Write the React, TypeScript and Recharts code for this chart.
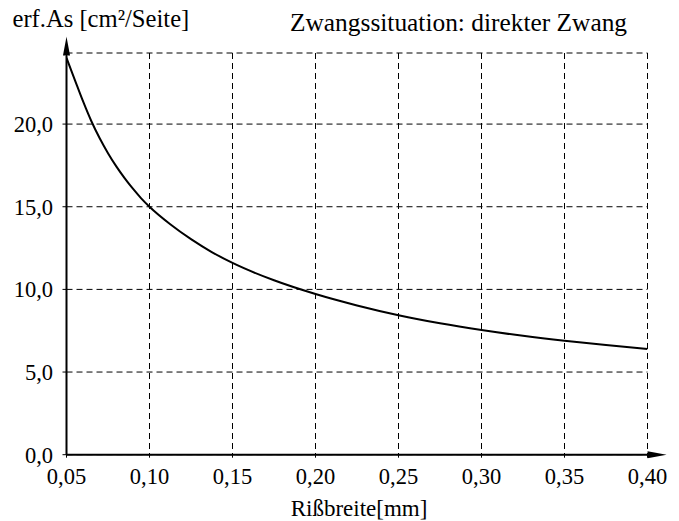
import React from "react";
import { LineChart, Line, XAxis, YAxis, CartesianGrid, ReferenceLine } from "recharts";

const crackWidths = [0.05, 0.055, 0.06, 0.065, 0.07, 0.075, 0.08, 0.085, 0.09, 0.095, 0.1, 0.1125, 0.125, 0.1375, 0.15, 0.175, 0.2, 0.225, 0.25, 0.275, 0.3, 0.325, 0.35, 0.375, 0.4];
const requiredAs = [24.0, 22.68, 21.37, 20.17, 19.14, 18.24, 17.44, 16.73, 16.09, 15.51, 15.0, 13.94, 13.04, 12.26, 11.6, 10.55, 9.72, 9.03, 8.44, 7.95, 7.54, 7.19, 6.89, 6.63, 6.39];
const xTicks = [0.05, 0.1, 0.15, 0.2, 0.25, 0.3, 0.35, 0.4];
const yTicks = [0, 5, 10, 15, 20];
const chartTitle = "Zwangssituation: direkter Zwang";
const yTitle = "erf.As [cm²/Seite]";
const xTitle = "Rißbreite[mm]";

const data = crackWidths.map((w, i) => ({ w, as: requiredAs[i] }));

const FONT = "Liberation Serif";

const fmtX = (v: number) => v.toFixed(2).replace(".", ",");
const fmtY = (v: number) => v.toFixed(1).replace(".", ",");

const ArrowLine = (props: any) => {
  const { x1, y1, x2, y2 } = props;
  const dx = x2 - x1;
  const dy = y2 - y1;
  const len = Math.sqrt(dx * dx + dy * dy) || 1;
  const ux = dx / len;
  const uy = dy / len;
  const headLen = 19;
  const half = 3.5;
  const bx = x2 - ux * headLen;
  const by = y2 - uy * headLen;
  const px = -uy * half;
  const py = ux * half;
  return (
    <g>
      <line x1={x1} y1={y1} x2={bx} y2={by} stroke="#000" strokeWidth={2} />
      <polygon points={`${x2},${y2} ${bx + px},${by + py} ${bx - px},${by - py}`} fill="#000" />
    </g>
  );
};

const tickStyle = { fill: "#000", fontSize: 22.5, fontFamily: FONT, style: { fontFamily: FONT } };

export default function App() {
  return (
    <div style={{ position: "absolute", left: 0, top: 0, width: 679, height: 521, background: "#fff", fontFamily: FONT }}>
      <LineChart
        width={679}
        height={521}
        data={data}
        margin={{ top: 53, right: 31.5, left: 0, bottom: 0 }}
        style={{ fontFamily: FONT }}
      >
        <CartesianGrid stroke="#000" strokeWidth={1} strokeDasharray="6 4" />
        <XAxis
          dataKey="w"
          type="number"
          domain={[0.05, 0.4]}
          ticks={xTicks}
          tickFormatter={fmtX}
          height={66.3}
          axisLine={false}
          tickLine={{ stroke: "#000" }}
          tickSize={3}
          tickMargin={10}
          tick={tickStyle}
          interval={0}
          allowDataOverflow
        />
        <YAxis
          type="number"
          domain={[0, 24.3]}
          ticks={yTicks}
          tickFormatter={fmtY}
          width={66.5}
          axisLine={false}
          tickLine={{ stroke: "#000" }}
          tickSize={4}
          tickMargin={9.5}
          tick={tickStyle}
          interval={0}
          allowDataOverflow
        />
        <Line
          type="monotone"
          dataKey="as"
          stroke="#000"
          strokeWidth={2}
          dot={false}
          activeDot={false}
          isAnimationActive={false}
        />
        <ReferenceLine
          segment={[{ x: 0.05, y: 0 }, { x: 0.05, y: 25.3 }]}
          ifOverflow="visible"
          shape={ArrowLine}
        />
        <ReferenceLine
          segment={[{ x: 0.05, y: 0 }, { x: 0.4115, y: 0 }]}
          ifOverflow="visible"
          shape={ArrowLine}
        />
      </LineChart>
      <svg
        width={679}
        height={521}
        style={{ position: "absolute", left: 0, top: 0, pointerEvents: "none", fontFamily: FONT }}
      >
        <text x={12.5} y={27} style={{ fontFamily: FONT, fontSize: 24.6 }} fill="#000">{yTitle}</text>
        <text x={290} y={31} style={{ fontFamily: FONT, fontSize: 25.4 }} fill="#000">{chartTitle}</text>
        <text x={359} y={516} style={{ fontFamily: FONT, fontSize: 23 }} fill="#000" textAnchor="middle">{xTitle}</text>
      </svg>
    </div>
  );
}
